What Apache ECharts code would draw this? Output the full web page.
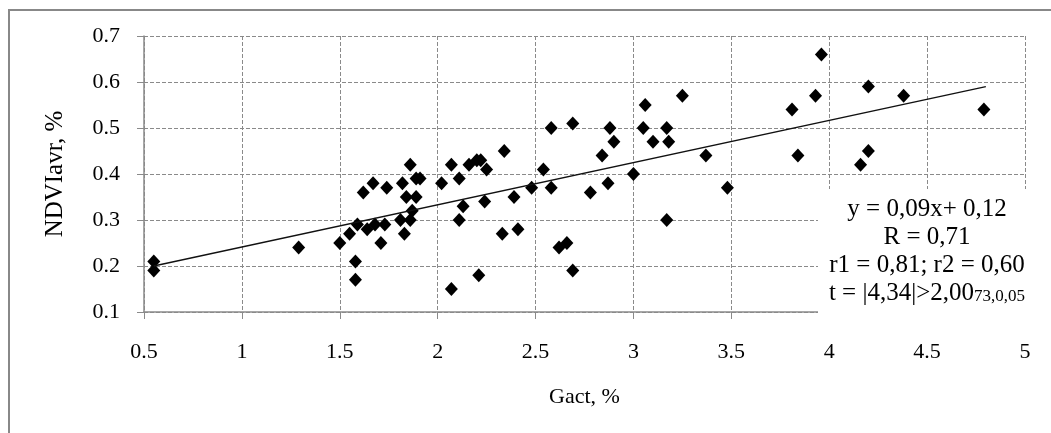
<!DOCTYPE html>
<html>
<head>
<meta charset="utf-8">
<script src="https://cdn.jsdelivr.net/npm/echarts@6/dist/echarts.min.js"></script>
<style>
  html, body { margin: 0; padding: 0; background: #fff; }
  #chart { width: 1051px; height: 433px; }
</style>
</head>
<body>
<div id="chart"></div>
<script>
// Gact, % (x) against NDVIavr, % (y) for every sample
const gact = [
  0.55, 0.55, 1.29, 1.50, 1.55, 1.58, 1.58, 1.59, 1.62, 1.64,
  1.67, 1.68, 1.71, 1.73, 1.74, 1.81, 1.82, 1.83, 1.84, 1.86,
  1.86, 1.87, 1.89, 1.89, 1.91, 2.02, 2.07, 2.07, 2.11,
  2.13, 2.11, 2.16, 2.20, 2.22, 2.25, 2.24, 2.21, 2.34, 2.33,
  2.39, 2.41, 2.48, 2.54, 2.58, 2.58, 2.62, 2.66, 2.69, 2.69,
  2.78, 2.84, 2.87, 2.88, 2.90, 3.00, 3.05, 3.06, 3.10, 3.17,
  3.18, 3.17, 3.25, 3.37, 3.48, 3.81, 3.84, 3.93, 3.96, 4.16,
  4.20, 4.20, 4.38, 4.79
];
const ndvi = [
  0.21, 0.19, 0.24, 0.25, 0.27, 0.21, 0.17, 0.29, 0.36, 0.28,
  0.38, 0.29, 0.25, 0.29, 0.37, 0.30, 0.38, 0.27, 0.35, 0.42,
  0.30, 0.32, 0.35, 0.39, 0.39, 0.38, 0.42, 0.15, 0.39,
  0.33, 0.30, 0.42, 0.43, 0.43, 0.41, 0.34, 0.18, 0.45, 0.27,
  0.35, 0.28, 0.37, 0.41, 0.50, 0.37, 0.24, 0.25, 0.51, 0.19,
  0.36, 0.44, 0.38, 0.50, 0.47, 0.40, 0.50, 0.55, 0.47, 0.50,
  0.47, 0.30, 0.57, 0.44, 0.37, 0.54, 0.44, 0.57, 0.66, 0.42,
  0.45, 0.59, 0.57, 0.54
];
// Ends of the fitted trend line
const trendX = [0.55, 4.80];
const trendY = [0.20, 0.59];
// Regression summary printed in the lower-right corner
const statLines = [
  'y = 0,09x+ 0,12',
  'R = 0,71',
  'r1 = 0,81; r2 = 0,60'
];
const tMain = 't = |4,34|>2,00';
const tSub = '73,0,05';

const FONT = '"Liberation Serif", "DejaVu Serif", serif';
const GRID_COLOR = '#8a8a8a';

const points = gact.map((x, i) => [x, ndvi[i]]);
const trend = trendX.map((x, i) => [x, trendY[i]]);

const chart = echarts.init(document.getElementById('chart'), null, { renderer: 'canvas' });

const statTexts = statLines.map((t, i) => ({
  type: 'text',
  z: 101,
  x: 927,
  y: 209 + i * 28,
  style: {
    text: t,
    fill: '#000',
    font: '25px ' + FONT,
    textAlign: 'center',
    textVerticalAlign: 'middle'
  }
}));

chart.setOption({
  animation: false,
  backgroundColor: '#fff',
  grid: { left: 144, right: 26, top: 36, bottom: 121 },
  xAxis: {
    type: 'value',
    min: 0.5, max: 5, interval: 0.5,
    name: 'Gact, %',
    nameLocation: 'middle',
    nameGap: 74,
    nameTextStyle: { fontFamily: FONT, fontSize: 22, color: '#000' },
    axisLine: { show: true, onZero: false, lineStyle: { color: GRID_COLOR, width: 1.5 } },
    axisTick: { show: true, inside: false, length: 7, lineStyle: { color: GRID_COLOR } },
    axisLabel: { fontFamily: FONT, fontSize: 22, color: '#000', margin: 29 },
    splitLine: { show: true, lineStyle: { color: GRID_COLOR, type: [4, 2], width: 1 } }
  },
  yAxis: {
    type: 'value',
    min: 0.1, max: 0.7, interval: 0.1,
    name: 'NDVIavr, %',
    nameLocation: 'middle',
    nameGap: 76,
    nameRotate: 90,
    nameTextStyle: { fontFamily: FONT, fontSize: 25, color: '#000' },
    axisLine: { show: true, onZero: false, lineStyle: { color: GRID_COLOR, width: 1.5 } },
    axisTick: { show: true, inside: false, length: 7, lineStyle: { color: GRID_COLOR } },
    axisLabel: { fontFamily: FONT, fontSize: 22, color: '#000', margin: 24,
                 formatter: v => v.toFixed(1) },
    splitLine: { show: true, lineStyle: { color: GRID_COLOR, type: [4, 2], width: 1 } }
  },
  series: [
    {
      type: 'scatter',
      data: points,
      symbol: 'diamond',
      symbolSize: [13, 14],
      itemStyle: { color: '#000', opacity: 1 },
      z: 3
    },
    {
      type: 'line',
      data: trend,
      showSymbol: false,
      symbol: 'none',
      lineStyle: { color: '#111', width: 1.3 },
      z: 4
    }
  ],
  graphic: [
    {
      type: 'rect',
      z: 0,
      silent: true,
      shape: { x: 9, y: 10, width: 1100, height: 500 },
      style: { fill: null, stroke: '#888', lineWidth: 2 }
    },
    {
      type: 'rect',
      z: 100,
      silent: true,
      shape: { x: 818, y: 189, width: 240, height: 136 },
      style: { fill: '#fff' }
    },
    ...statTexts,
    {
      type: 'text',
      z: 101,
      x: 927,
      y: 209 + 3 * 28,
      style: {
        text: '{a|' + tMain + '}{b|' + tSub + '}',
        textAlign: 'center',
        textVerticalAlign: 'middle',
        rich: {
          a: { fontSize: 25, fontFamily: FONT, color: '#000' },
          b: { fontSize: 17, fontFamily: FONT, color: '#000',
               verticalAlign: 'bottom', padding: [7, 0, 0, 0] }
        }
      }
    }
  ]
});
</script>
</body>
</html>
